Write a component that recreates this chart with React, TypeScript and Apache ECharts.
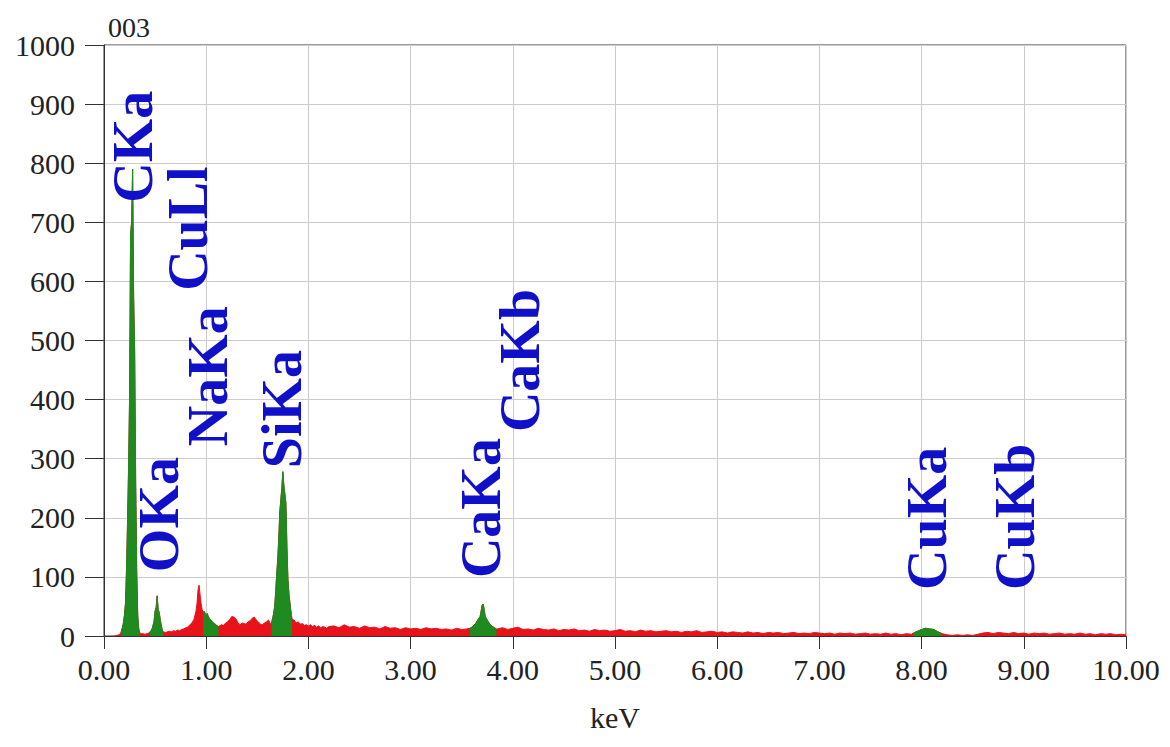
import React, { useEffect, useRef } from "react";
import * as echarts from "echarts";

const chartTitle = "003";
const xAxisName = "keV";

// Spectrum counts, as [keV, counts]
const carbonRegion: [number, number][] = [
  [0.10, 0], [0.11, 0], [0.12, 1], [0.13, 1], [0.14, 2], [0.15, 2], [0.16, 4], [0.17, 8],
  [0.18, 14], [0.19, 22], [0.20, 35], [0.21, 55], [0.22, 110], [0.23, 190], [0.24, 280],
  [0.25, 400], [0.26, 680], [0.27, 700], [0.28, 790], [0.29, 575], [0.30, 480], [0.31, 260],
  [0.32, 110], [0.33, 35], [0.34, 12], [0.35, 6], [0.36, 4], [0.38, 4], [0.40, 3], [0.42, 4], [0.44, 5],
];
const oxygenRegion: [number, number][] = [
  [0.45, 7], [0.46, 9], [0.47, 12], [0.48, 18], [0.49, 25], [0.50, 42], [0.51, 48], [0.52, 68],
  [0.53, 45], [0.54, 40], [0.55, 28], [0.56, 18], [0.57, 10], [0.58, 7], [0.60, 6],
];
const copperLRegion: [number, number][] = [
  [0.62, 7], [0.64, 8], [0.66, 7], [0.68, 9], [0.70, 8], [0.72, 10], [0.74, 9], [0.76, 11],
  [0.78, 12], [0.80, 14], [0.82, 15], [0.84, 19], [0.86, 22], [0.88, 28], [0.90, 42], [0.91, 55],
  [0.92, 78], [0.93, 86], [0.94, 70], [0.95, 55], [0.96, 45],
];
const sodiumRegion: [number, number][] = [
  [0.97, 40], [0.98, 42], [0.99, 38], [1.00, 36], [1.01, 38], [1.02, 33], [1.03, 30], [1.04, 28],
  [1.05, 26], [1.06, 24], [1.07, 22], [1.08, 21], [1.09, 20], [1.10, 18], [1.11, 17], [1.12, 16],
];
const midRegion: [number, number][] = [
  [1.13, 17], [1.15, 19], [1.17, 18], [1.19, 22], [1.21, 24], [1.23, 28], [1.25, 33], [1.27, 32],
  [1.29, 29], [1.31, 23], [1.33, 19], [1.35, 22], [1.37, 21], [1.39, 20], [1.41, 24], [1.43, 26],
  [1.45, 30], [1.47, 32], [1.49, 27], [1.51, 24], [1.53, 20], [1.55, 19], [1.57, 22], [1.59, 24],
  [1.61, 27], [1.63, 20],
];
const siliconRegion: [number, number][] = [
  [1.64, 22], [1.65, 30], [1.66, 38], [1.67, 50], [1.68, 75], [1.69, 105], [1.70, 130], [1.71, 165],
  [1.72, 210], [1.73, 230], [1.74, 250], [1.75, 278], [1.76, 255], [1.77, 240], [1.78, 225],
  [1.79, 150], [1.80, 95], [1.81, 70], [1.82, 55], [1.83, 40], [1.84, 28],
];
const tailRegionA: [number, number][] = [
  [1.86, 27], [1.88, 22], [1.90, 24], [1.92, 20], [1.94, 21], [1.96, 18], [1.98, 19], [2.00, 17],
  [2.02, 19], [2.04, 16], [2.06, 18], [2.08, 15], [2.10, 17], [2.12, 14], [2.14, 16], [2.16, 15],
  [2.18, 13], [2.20, 16], [2.25, 17], [2.30, 14], [2.35, 19], [2.40, 15], [2.45, 16], [2.50, 13],
  [2.55, 17], [2.60, 14], [2.65, 15], [2.70, 12], [2.75, 16], [2.80, 13], [2.85, 14], [2.90, 11],
  [2.95, 14], [3.00, 12], [3.05, 13], [3.10, 11], [3.15, 14], [3.20, 12], [3.25, 13], [3.30, 11],
  [3.35, 12], [3.40, 10], [3.45, 13], [3.50, 11], [3.55, 12],
];
const calciumRegion: [number, number][] = [
  [3.58, 13], [3.60, 15], [3.62, 18], [3.64, 22], [3.66, 28], [3.68, 33], [3.69, 42], [3.70, 52],
  [3.71, 54], [3.72, 45], [3.73, 33], [3.74, 30], [3.76, 24], [3.78, 19], [3.80, 16], [3.82, 14], [3.84, 12],
];
const tailRegionB: [number, number][] = [
  [3.85, 12], [3.90, 14], [3.95, 11], [4.00, 13], [4.05, 15], [4.10, 11], [4.15, 12], [4.20, 10],
  [4.25, 13], [4.30, 11], [4.35, 10], [4.40, 12], [4.45, 9], [4.50, 11], [4.55, 10], [4.60, 12],
  [4.65, 9], [4.70, 10], [4.75, 8], [4.80, 11], [4.85, 9], [4.90, 10], [4.95, 8], [5.00, 9],
  [5.05, 11], [5.10, 8], [5.15, 9], [5.20, 7], [5.25, 10], [5.30, 8], [5.35, 9], [5.40, 7],
  [5.45, 8], [5.50, 9], [5.55, 7], [5.60, 8], [5.65, 6], [5.70, 8], [5.75, 7], [5.80, 9],
  [5.85, 6], [5.90, 7], [5.95, 8], [6.00, 6], [6.05, 7], [6.10, 5], [6.15, 7], [6.20, 6],
  [6.25, 5], [6.30, 7], [6.35, 5], [6.40, 6], [6.45, 4], [6.50, 6], [6.55, 5], [6.60, 6],
  [6.65, 4], [6.70, 5], [6.75, 6], [6.80, 4], [6.85, 5], [6.90, 4], [6.95, 6], [7.00, 5],
  [7.05, 4], [7.10, 5], [7.15, 3], [7.20, 5], [7.25, 4], [7.30, 5], [7.35, 3], [7.40, 4],
  [7.45, 5], [7.50, 3], [7.55, 4], [7.60, 3], [7.65, 5], [7.70, 3], [7.75, 4], [7.80, 2],
  [7.85, 4], [7.90, 3],
];
const copperKRegion: [number, number][] = [
  [7.92, 5], [7.96, 8], [8.00, 11], [8.04, 13], [8.08, 12], [8.12, 11], [8.16, 7], [8.20, 4],
];
const tailRegionC: [number, number][] = [
  [8.25, 2], [8.30, 1], [8.35, 2], [8.40, 1], [8.45, 2], [8.50, 1], [8.55, 3], [8.60, 5],
  [8.65, 6], [8.70, 4], [8.75, 6], [8.80, 5], [8.85, 4], [8.90, 6], [8.95, 4], [9.00, 5],
  [9.05, 3], [9.10, 5], [9.15, 4], [9.20, 5], [9.25, 3], [9.30, 4], [9.35, 5], [9.40, 3],
  [9.45, 4], [9.50, 3], [9.55, 5], [9.60, 3], [9.65, 4], [9.70, 2], [9.75, 4], [9.80, 3],
  [9.85, 4], [9.90, 2], [9.95, 3], [10.00, 2],
];

// Identified peak windows (green), keV ranges
const peakWindows: [number, number][] = [
  [0.17, 0.35], [0.45, 0.58], [0.97, 1.12], [1.64, 1.84], [3.58, 3.84], [7.92, 8.20],
];

// Peak labels: name, anchor keV, anchor counts (bottom of rotated text)
const peakNames = ["CKa", "OKa", "CuLl", "NaKa", "SiKa", "CaKa", "CaKb", "CuKa", "CuKb"];
const peakLabelKeV = [0.279, 0.538, 0.822, 1.018, 1.742, 3.689, 4.07, 8.053, 8.914];
const peakLabelCounts = [733, 108, 584, 321, 284, 98, 345, 78, 78];

const SERIF = "'Liberation Serif', 'Times New Roman', serif";
const RED = "#e8121a";
const GREEN = "#1f8a1f";
const BLUE = "#1010c8";

export default function App() {
  const ref = useRef<HTMLDivElement>(null);

  useEffect(() => {
    if (!ref.current) return;
    const chart = echarts.init(ref.current, undefined, { renderer: "svg" });

    const spectrum: [number, number][] = [
      ...carbonRegion, ...oxygenRegion, ...copperLRegion, ...sodiumRegion, ...midRegion,
      ...siliconRegion, ...tailRegionA, ...calciumRegion, ...tailRegionB, ...copperKRegion, ...tailRegionC,
    ];

    const greenSeries = peakWindows.map(([a, b], i) => ({
      type: "line" as const,
      name: "peak" + i,
      data: spectrum.filter(([k]) => k >= a - 1e-9 && k <= b + 1e-9),
      showSymbol: false,
      symbol: "none",
      lineStyle: { color: GREEN, width: 1 },
      areaStyle: { color: GREEN, opacity: 1 },
      silent: true,
      z: 3,
    }));

    const labelData = peakNames.map((n, i) => ({ name: n, value: [peakLabelKeV[i], peakLabelCounts[i]] }));

    chart.setOption({
      animation: false,
      backgroundColor: "#ffffff",
      title: {
        text: chartTitle,
        left: 103,
        top: 8,
        textStyle: { fontFamily: SERIF, fontSize: 28, fontWeight: "normal", color: "#222" },
      },
      grid: {
        left: 104,
        right: 44,
        top: 45,
        bottom: 111,
        show: true,
        borderColor: "#333",
        borderWidth: 1,
        backgroundColor: "transparent",
      },
      xAxis: {
        type: "value",
        min: 0,
        max: 10,
        interval: 1,
        name: xAxisName,
        nameLocation: "middle",
        nameGap: 66,
        nameTextStyle: { fontFamily: SERIF, fontSize: 30, color: "#222" },
        axisLine: { show: true, lineStyle: { color: "#333", width: 1 } },
        axisTick: { show: true, length: 13, lineStyle: { color: "#333" } },
        axisLabel: {
          fontFamily: SERIF,
          fontSize: 30,
          color: "#222",
          margin: 18,
          formatter: (v: number) => v.toFixed(2),
        },
        splitLine: { show: true, lineStyle: { color: "#cccccc", width: 1 } },
      },
      yAxis: {
        type: "value",
        min: 0,
        max: 1000,
        interval: 100,
        axisLine: { show: true, lineStyle: { color: "#333", width: 1 } },
        axisTick: { show: true, length: 19, lineStyle: { color: "#333" } },
        axisLabel: {
          fontFamily: SERIF,
          fontSize: 30,
          color: "#222",
          margin: 29,
          formatter: (v: number) => String(v),
        },
        splitLine: { show: true, lineStyle: { color: "#cccccc", width: 1 } },
      },
      series: [
        {
          type: "line",
          name: "spectrum",
          data: spectrum,
          showSymbol: false,
          symbol: "none",
          lineStyle: { color: RED, width: 1 },
          areaStyle: { color: RED, opacity: 1 },
          silent: true,
          z: 2,
        },
        ...greenSeries,
        {
          type: "scatter",
          name: "labels",
          data: labelData,
          symbolSize: 0,
          silent: true,
          z: 5,
          itemStyle: { opacity: 1, color: BLUE },
          label: {
            show: true,
            position: [0, 0],
            rotate: 90,
            align: "left",
            verticalAlign: "middle",
            formatter: (p: any) => p.name,
            fontFamily: SERIF,
            fontSize: 56,
            fontWeight: "bold",
            color: BLUE,
            opacity: 1,
          },
        },
      ],
    });

    return () => chart.dispose();
  }, []);

  return (
    <div
      ref={ref}
      style={{ position: "fixed", left: 0, top: 0, width: 1170, height: 747, background: "#fff" }}
    />
  );
}
